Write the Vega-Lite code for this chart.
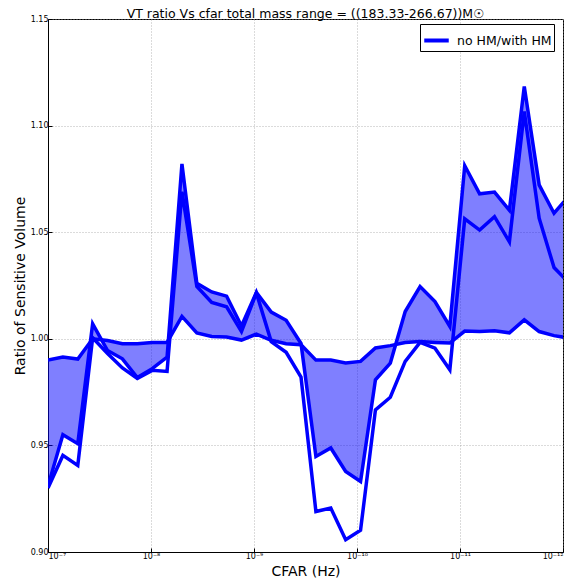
{
  "$schema": "https://vega.github.io/schema/vega-lite/v6.json",
  "width": 515,
  "height": 533,
  "autosize": {"type": "none"},
  "padding": {"left": 48, "top": 19, "right": 20, "bottom": 31},
  "background": "white",
  "title": {"text": "VT ratio Vs cfar total mass range = ((183.33-266.67))M☉", "fontSize": 12.5, "font": "DejaVu Sans", "fontWeight": "normal", "color": "black", "offset": 0, "baseline": "bottom", "dy": 18},
  "config": {
    "view": {"stroke": "black", "strokeWidth": 1},
    "axis": {
      "domainColor": "black",
      "tickColor": "black",
      "labelColor": "black",
      "labelFont": "DejaVu Sans",
      "labelFontSize": 8,
      "titleFont": "DejaVu Sans",
      "titleFontSize": 14,
      "titleFontWeight": "normal",
      "titleColor": "black",
      "gridColor": "#9a9a9a",
      "gridDash": [1, 2],
      "gridWidth": 0.7,
      "tickSize": -4
    },
    "legend": {
      "orient": "none",
      "legendX": 372,
      "legendY": 5,
      "fillColor": "white",
      "strokeColor": "black",
      "padding": 2,
      "labelFont": "DejaVu Sans",
      "labelFontSize": 12.5,
      "labelColor": "black",
      "labelOffset": 6,
      "symbolType": "stroke",
      "symbolStrokeWidth": 4,
      "symbolSize": 600
    }
  },
  "data": {
    "values": [
      {"cfar": 1.000e-7, "ref": 0.990, "up": 0.931, "lo": 0.930},
      {"cfar": 7.170e-8, "ref": 0.9914, "up": 0.955, "lo": 0.9453},
      {"cfar": 5.140e-8, "ref": 0.9905, "up": 0.9508, "lo": 0.9406},
      {"cfar": 3.686e-8, "ref": 1.000, "up": 1.007, "lo": 1.0005},
      {"cfar": 2.642e-8, "ref": 0.9992, "up": 0.9945, "lo": 0.9931},
      {"cfar": 1.895e-8, "ref": 0.9977, "up": 0.9906, "lo": 0.9863},
      {"cfar": 1.358e-8, "ref": 0.9977, "up": 0.9818, "lo": 0.9814},
      {"cfar": 9.739e-9, "ref": 0.9983, "up": 0.9860, "lo": 0.9852},
      {"cfar": 6.982e-9, "ref": 0.9983, "up": 0.9914, "lo": 0.9847},
      {"cfar": 5.006e-9, "ref": 1.0105, "up": 1.082, "lo": 1.069},
      {"cfar": 3.589e-9, "ref": 1.0028, "up": 1.026, "lo": 1.0245},
      {"cfar": 2.573e-9, "ref": 1.0011, "up": 1.022, "lo": 1.017},
      {"cfar": 1.845e-9, "ref": 1.0008, "up": 1.020, "lo": 1.015},
      {"cfar": 1.323e-9, "ref": 0.9994, "up": 1.006, "lo": 1.0034},
      {"cfar": 9.484e-10, "ref": 1.0022, "up": 1.0217, "lo": 1.0215},
      {"cfar": 6.802e-10, "ref": 0.9993, "up": 1.0125, "lo": 0.9987},
      {"cfar": 4.875e-10, "ref": 0.9977, "up": 1.0087, "lo": 0.9937},
      {"cfar": 3.496e-10, "ref": 0.9972, "up": 0.9978, "lo": 0.982},
      {"cfar": 2.506e-10, "ref": 0.990, "up": 0.9448, "lo": 0.919},
      {"cfar": 1.797e-10, "ref": 0.990, "up": 0.9488, "lo": 0.9206},
      {"cfar": 1.288e-10, "ref": 0.9887, "up": 0.9378, "lo": 0.9058},
      {"cfar": 9.237e-11, "ref": 0.9894, "up": 0.9331, "lo": 0.9102},
      {"cfar": 6.622e-11, "ref": 0.9957, "up": 0.9808, "lo": 0.9667},
      {"cfar": 4.748e-11, "ref": 0.9968, "up": 0.9886, "lo": 0.9726},
      {"cfar": 3.404e-11, "ref": 0.9983, "up": 1.0128, "lo": 0.9894},
      {"cfar": 2.441e-11, "ref": 0.9987, "up": 1.0245, "lo": 0.9983},
      {"cfar": 1.750e-11, "ref": 0.9983, "up": 1.0175, "lo": 0.9956},
      {"cfar": 1.255e-11, "ref": 0.998, "up": 1.0058, "lo": 0.9855},
      {"cfar": 8.995e-12, "ref": 1.0036, "up": 1.0812, "lo": 1.0563},
      {"cfar": 6.449e-12, "ref": 1.0034, "up": 1.068, "lo": 1.051},
      {"cfar": 4.624e-12, "ref": 1.0038, "up": 1.0688, "lo": 1.0573},
      {"cfar": 3.315e-12, "ref": 1.0028, "up": 1.0603, "lo": 1.0455},
      {"cfar": 2.377e-12, "ref": 1.0089, "up": 1.1183, "lo": 1.1066},
      {"cfar": 1.704e-12, "ref": 1.0034, "up": 1.0722, "lo": 1.0566},
      {"cfar": 1.222e-12, "ref": 1.0015, "up": 1.0589, "lo": 1.0334},
      {"cfar": 8.760e-13, "ref": 1.0003, "up": 1.067, "lo": 1.0262}
    ]
  },
  "encoding": {
    "x": {
      "field": "cfar",
      "type": "quantitative",
      "scale": {"type": "log", "domain": [1e-12, 1e-7], "reverse": true, "nice": false},
      "axis": {
        "title": "CFAR (Hz)",
        "values": [1e-7, 1e-8, 1e-9, 1e-10, 1e-11, 1e-12],
        "labelExpr": "'10⁻' + ['⁰','¹','²','³','⁴','⁵','⁶','⁷','⁸','⁹','¹⁰','¹¹','¹²'][round(-log(datum.value)/LN10)]",
        "labelPadding": 4,
        "titlePadding": 4,
        "grid": true
      }
    }
  },
  "layer": [
    {
      "mark": {"type": "area", "color": "blue", "opacity": 0.5, "clip": true},
      "encoding": {
        "y": {
          "field": "up",
          "type": "quantitative",
          "scale": {"domain": [0.9, 1.15], "nice": false, "zero": false},
          "axis": {"title": "Ratio of Sensitive Volume", "values": [0.9, 0.95, 1.0, 1.05, 1.1, 1.15], "format": ".2f", "labelPadding": 4, "titlePadding": 3, "grid": true}
        },
        "y2": {"field": "ref"}
      }
    },
    {
      "mark": {"type": "line", "color": "blue", "strokeWidth": 3.5, "clip": true},
      "encoding": {"y": {"field": "lo", "type": "quantitative"}}
    },
    {
      "mark": {"type": "line", "color": "blue", "strokeWidth": 3.5, "clip": true},
      "encoding": {"y": {"field": "up", "type": "quantitative"}}
    },
    {
      "mark": {"type": "line", "strokeWidth": 3.5, "clip": true},
      "encoding": {
        "y": {"field": "ref", "type": "quantitative"},
        "color": {"datum": "no HM/with HM", "type": "nominal", "scale": {"range": ["blue"]}, "legend": {"title": null}}
      }
    }
  ]
}
